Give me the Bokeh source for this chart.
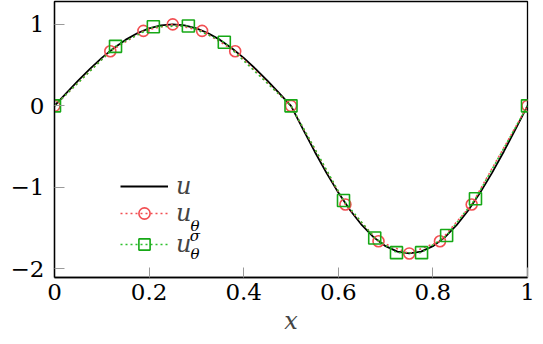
from bokeh.plotting import figure
from bokeh.models import Legend, LegendItem, Label, FixedTicker
from bokeh.embed import file_html
from bokeh.resources import INLINE

# ---- data ----
x_u = [0.0, 0.025, 0.05, 0.075, 0.1, 0.125, 0.15, 0.175, 0.2, 0.225, 0.25,
       0.275, 0.3, 0.325, 0.35, 0.375, 0.4, 0.425, 0.45, 0.475, 0.5,
       0.525, 0.55, 0.575, 0.6, 0.625, 0.65, 0.675, 0.7, 0.725, 0.75,
       0.775, 0.8, 0.825, 0.85, 0.875, 0.9, 0.925, 0.95, 0.975, 1.0]
u = [0.0, 0.156, 0.309, 0.454, 0.588, 0.707, 0.809, 0.891, 0.951, 0.988, 1.0,
     0.988, 0.951, 0.891, 0.809, 0.707, 0.588, 0.454, 0.309, 0.156, 0.0,
     -0.283, -0.559, -0.822, -1.064, -1.280, -1.464, -1.613, -1.721, -1.788, -1.81,
     -1.788, -1.721, -1.613, -1.464, -1.280, -1.064, -0.822, -0.559, -0.283, 0.0]

x_theta = [0.0, 0.118, 0.188, 0.25, 0.312, 0.382, 0.5, 0.615, 0.685, 0.75, 0.815, 0.882, 1.0]
u_theta = [0.0, 0.67, 0.92, 1.0, 0.92, 0.67, 0.0, -1.21, -1.66, -1.81, -1.66, -1.21, 0.0]

x_sigma = [0.0, 0.129, 0.209, 0.283, 0.359, 0.5, 0.611, 0.677, 0.723, 0.776, 0.829, 0.890, 1.0]
u_sigma = [0.0, 0.73, 0.97, 0.98, 0.78, 0.0, -1.16, -1.62, -1.80, -1.80, -1.59, -1.14, 0.0]

x_ticks = [0, 0.2, 0.4, 0.6, 0.8, 1]
x_tick_labels = ["0", "0.2", "0.4", "0.6", "0.8", "1"]
y_ticks = [-2, -1, 0, 1]
y_tick_labels = ["\u22122", "\u22121", "0", "1"]

FONT = "DejaVu Serif"
RED = "#f24e52"
GREEN = "#16a816"
GREEN_LINE = "#2cc02c"

p = figure(frame_width=473, frame_height=276,
           min_border_left=54, min_border_right=16, min_border_top=1, min_border_bottom=66,
           x_range=(0, 1), y_range=(-2.105, 1.28),
           output_backend="svg", toolbar_location=None, background_fill_color="white")
p.xgrid.visible = False
p.ygrid.visible = False
p.outline_line_color = "black"
p.outline_line_width = 1.3

for ax, ticks, labels in ((p.xaxis[0], x_ticks, x_tick_labels), (p.yaxis[0], y_ticks, y_tick_labels)):
    ax.ticker = FixedTicker(ticks=ticks)
    ax.major_label_overrides = {t: l for t, l in zip(ticks, labels)}
    ax.major_tick_in = 10
    ax.major_tick_out = 0
    ax.minor_tick_in = 0
    ax.minor_tick_out = 0
    ax.major_tick_line_color = "#9a9a9a"
    ax.major_tick_line_width = 1
    ax.axis_line_color = "black"
    ax.axis_line_width = 1.3
    ax.major_label_text_font = FONT
    ax.major_label_text_font_size = "23px"
    ax.major_label_text_color = "black"

p.xaxis.major_label_standoff = 6
p.yaxis.major_label_standoff = 10
p.xaxis.axis_label = "x"
p.xaxis.axis_label_text_font = FONT
p.xaxis.axis_label_text_font_style = "italic"
p.xaxis.axis_label_text_font_size = "24px"
p.xaxis.axis_label_standoff = 4

r_u = p.line(x_u, u, line_color="black", line_width=1.8)
r_tl = p.line(x_theta, u_theta, line_color=RED, line_width=1.5, line_dash="2 3")
r_tm = p.scatter(x_theta, u_theta, marker="circle", size=11, fill_color=None,
                 line_color=RED, line_width=1.6)
r_sl = p.line(x_sigma, u_sigma, line_color=GREEN_LINE, line_width=1.5, line_dash="2 3")
r_sm = p.scatter(x_sigma, u_sigma, marker="square", size=12, fill_color=None,
                 line_color=GREEN, line_width=1.6)


def make_legend(label, renderers, loc):
    lg = Legend(items=[LegendItem(label=label, renderers=renderers)], location=loc,
                background_fill_alpha=0, border_line_alpha=0, padding=0, margin=0,
                glyph_width=48, glyph_height=28, label_height=28, label_standoff=8,
                label_text_font=FONT, label_text_font_style="italic",
                label_text_font_size="24px", label_text_baseline="middle")
    p.add_layout(lg, "center")


make_legend("u", [r_u], (66, 77))
make_legend("u", [r_tl, r_tm], (66, 50))
make_legend("u", [r_sl, r_sm], (66, 19))

for txt, lx, ly in (("\u03b8", 0.297, -1.47), ("\u03c3", 0.297, -1.60), ("\u03b8", 0.297, -1.82)):
    p.add_layout(Label(x=lx, y=ly, text=txt, text_font=FONT, text_font_style="italic",
                       text_font_size="15px", text_align="center", text_baseline="middle",
                       text_color="black"))

open("out.html", "w").write(file_html(p, INLINE))
